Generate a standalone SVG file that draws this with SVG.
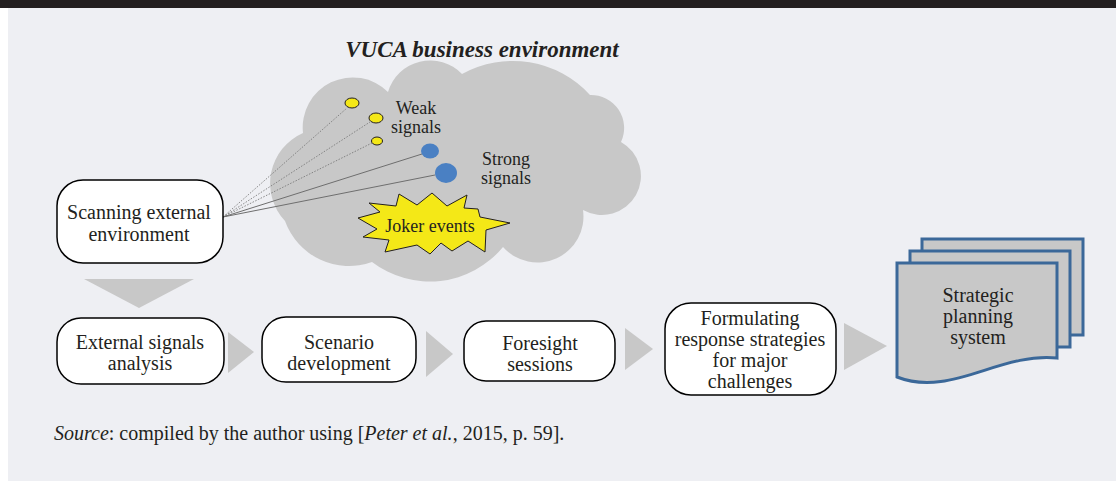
<svg xmlns="http://www.w3.org/2000/svg" width="1116" height="481" viewBox="0 0 1116 481">
  <style>
    text { font-family: "Liberation Serif", "Times New Roman", Tinos, "Noto Serif", "DejaVu Serif", serif; fill: #231f20; }
    .lbl { font-size: 20px; text-anchor: middle; }
    .small { font-size: 18px; text-anchor: middle; }
    .box { fill: #ffffff; stroke: #000000; stroke-width: 1.5; }
    .flow { fill: #c8c8c8; stroke: none; }
    .doc { fill: #c8c8c8; stroke: #3b6899; stroke-width: 3; }
    .weak { fill: #f4e817; stroke: #231f20; stroke-width: 1; }
    .strong { fill: #4a80c3; stroke: none; }
    .dotted { stroke: #7a7a7a; stroke-width: 0.9; stroke-dasharray: 1.5 1.5; fill: none; }
    .solid { stroke: #6e6e6e; stroke-width: 1; fill: none; }
  </style>

  <!-- page frame -->
  <rect x="0" y="0" width="1116" height="481" fill="#ffffff"/>
  <rect x="8" y="0" width="1108" height="481" fill="#eeeff3"/>
  <rect x="0" y="0" width="1116" height="8" fill="#231f20"/>

  <!-- heading -->
  <text id="title" x="482" y="57" font-size="23" font-weight="bold" font-style="italic" text-anchor="middle">VUCA business environment</text>

  <!-- environment cloud -->
  <g id="cloud">
    <path fill="#c8c8c8" d="M285,221
      A55,55 0 0 1 303,133
      A50,50 0 0 1 388,92
      A44,44 0 0 1 462,74
      A105,105 0 0 1 590,95
      A33,33 0 0 1 621,142
      A38,38 0 0 1 583,210
      A46,46 0 0 1 503,247
      A95,95 0 0 1 372,262
      A68,68 0 0 1 285,221 Z"/>
  </g>

  <!-- scanning rays and process flow arrows -->
  <g id="connectors">
    <line class="dotted" x1="223" y1="217" x2="347" y2="108"/>
    <line class="dotted" x1="223" y1="217" x2="370" y2="122"/>
    <line class="dotted" x1="223" y1="217" x2="372" y2="143"/>
    <line class="solid" x1="223" y1="217" x2="422" y2="154"/>
    <line class="solid" x1="223" y1="217" x2="435" y2="175"/>
    <polygon class="flow" points="84,279 194,279 139,308"/>
    <polygon class="flow" points="228,332 228,373 254,352"/>
    <polygon class="flow" points="426,331 426,377 453,354"/>
    <polygon class="flow" points="625,328 625,370 653,349"/>
    <polygon class="flow" points="844,323 844,370 887,346"/>
  </g>

  <!-- signals -->
  <g id="weak-signals">
    <ellipse class="weak" cx="352" cy="103" rx="7" ry="5"/>
    <ellipse class="weak" cx="376" cy="118" rx="7" ry="5"/>
    <ellipse class="weak" cx="377" cy="141" rx="5.5" ry="4"/>
    <text class="small" x="416" y="114">Weak</text>
    <text class="small" x="416" y="133">signals</text>
  </g>
  <g id="strong-signals">
    <ellipse class="strong" cx="430" cy="151" rx="9" ry="7.5"/>
    <ellipse class="strong" cx="446" cy="173" rx="11" ry="10"/>
    <text class="small" x="506" y="165">Strong</text>
    <text class="small" x="506" y="184">signals</text>
  </g>
  <g id="joker-events">
    <polygon fill="#f4e817" stroke="#231f20" stroke-width="1"
      points="358,218 380,212 369,203 396,206 399,194 417,205 432,193 447,206 467,195 464,208 478,209 480,217 510,223 486,230 485,252 468,241 452,251 441,243 430,254 417,245 385,252 389,240 363,237 377,229"/>
    <text class="small" x="430" y="232">Joker events</text>
  </g>

  <!-- scanning node -->
  <g id="scanning">
    <rect class="box" x="57" y="180" width="166" height="83" rx="26"/>
    <text class="lbl" x="139" y="219">Scanning external</text>
    <text class="lbl" x="139" y="241">environment</text>
  </g>

  <!-- process row -->
  <g id="signals-analysis">
    <rect class="box" x="57" y="318" width="167" height="66" rx="24"/>
    <text class="lbl" x="140" y="349">External signals</text>
    <text class="lbl" x="140" y="370">analysis</text>
  </g>
  <g id="scenario-development">
    <rect class="box" x="262" y="317" width="154" height="65" rx="24"/>
    <text class="lbl" x="339" y="349">Scenario</text>
    <text class="lbl" x="339" y="370">development</text>
  </g>
  <g id="foresight-sessions">
    <rect class="box" x="464" y="321" width="151" height="60" rx="22"/>
    <text class="lbl" x="540" y="350">Foresight</text>
    <text class="lbl" x="540" y="371">sessions</text>
  </g>
  <g id="response-strategies">
    <rect class="box" x="665" y="303" width="171" height="92" rx="26"/>
    <text class="lbl" x="750" y="325">Formulating</text>
    <text class="lbl" x="750" y="346">response strategies</text>
    <text class="lbl" x="750" y="367">for major</text>
    <text class="lbl" x="750" y="388">challenges</text>
  </g>

  <!-- strategic planning documents -->
  <g id="planning-system">
    <rect class="doc" x="922" y="239" width="161" height="96"/>
    <rect class="doc" x="910" y="251" width="160" height="96"/>
    <path class="doc" d="M897,263 H1057 V358 C1000,352 950,398 897,377 Z"/>
    <text class="lbl" x="978" y="302">Strategic</text>
    <text class="lbl" x="978" y="323">planning</text>
    <text class="lbl" x="978" y="344">system</text>
  </g>

  <!-- citation -->
  <text id="source" x="54" y="440" font-size="20"><tspan font-style="italic">Source</tspan>: compiled by the author using [<tspan font-style="italic">Peter et al.</tspan>, 2015, p. 59].</text>
</svg>
